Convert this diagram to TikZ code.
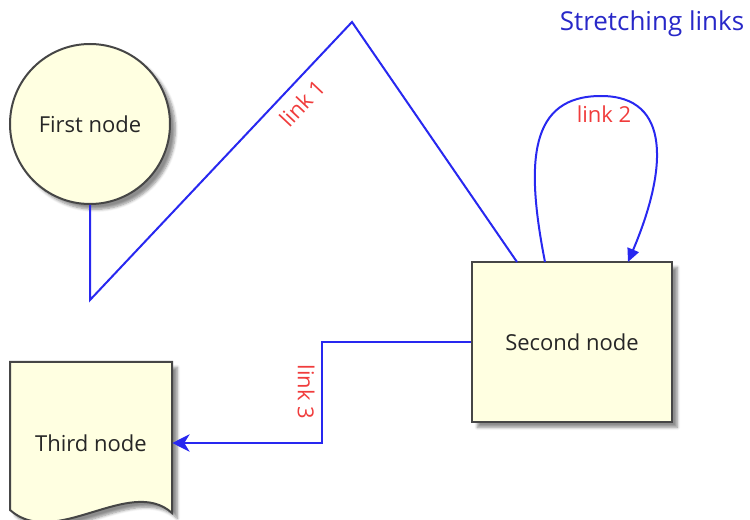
\documentclass[tikz,border=0pt]{standalone}
\usepackage{fontspec}
\setmainfont{Open Sans}
\usetikzlibrary{arrows.meta,shadows.blur,calc}
\definecolor{nodefill}{RGB}{255,255,225}
\definecolor{nodeline}{RGB}{70,70,70}
\definecolor{linkblue}{RGB}{40,40,240}
\definecolor{labred}{RGB}{240,60,60}
\definecolor{titleblue}{RGB}{40,40,200}
\tikzset{
  shapebox/.style={fill=nodefill, draw=nodeline, line width=1.5pt,
    blur shadow={shadow xshift=4pt, shadow yshift=-4pt, shadow blur steps=6, shadow opacity=45}},
  nodetext/.style={font=\fontsize{16.5}{19}\selectfont, text=black!85},
  link/.style={draw=linkblue, line width=1.5pt},
  linklabel/.style={font=\fontsize{16.5}{19}\selectfont, text=labred, inner sep=0pt},
}
\begin{document}
\begin{tikzpicture}[x=0.75pt,y=-0.75pt]
\useasboundingbox (0,0) rectangle (750,520);
% title
\node[font=\fontsize{19.5}{22}\selectfont, text=titleblue, inner sep=0pt] (title) at (652,24) {Stretching links};
% first node
\node[shapebox, circle, minimum size=120pt, inner sep=0pt, nodetext] (first) at (90,124) {First node};
% second node
\node[shapebox, rectangle, minimum width=150pt, minimum height=120pt, inner sep=0pt, nodetext] (second) at (572,342) {Second node};
% third node (document shape)
\path[shapebox] (10,362) -- (172,362) -- (172,513) .. controls (130,475) and (55,550) .. (10,510) -- cycle;
\node[nodetext, inner sep=0pt, minimum width=121.5pt, minimum height=90pt] (third) at (91,443) {Third node};
% link 1
\coordinate (b1) at (90,300);
\coordinate (b2) at (352,22);
\coordinate (e1) at (517,262);
\draw[link] (first.south) -- (b1) -- (b2) -- (e1);
\node[linklabel, rotate=46.7] (l1) at (302,103) {link 1};
% link 2
\coordinate (s2) at (545,262);
\coordinate (p2) at (601,96);
\coordinate (t2) at (628,262);
\draw[link, -{Triangle[length=10pt,width=9pt]}] (s2) .. controls (525,160) and (530,96) .. (p2) .. controls (672,96) and (667,170) .. (t2);
\node[linklabel] (l2) at (604,114) {link 2};
% link 3
\coordinate (b3a) at (322,342);
\coordinate (b3b) at (322,443);
\draw[link, -{Stealth[length=13pt,width=13pt,inset=4pt]}] (second.west) -- (b3a) -- (b3b) -- (third.east);
\node[linklabel, rotate=-90] (l3) at (306,392) {link 3};
\end{tikzpicture}
\end{document}
